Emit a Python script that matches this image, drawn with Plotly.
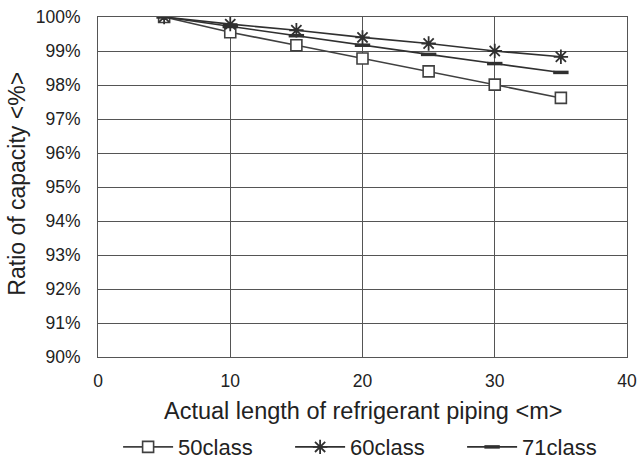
import plotly.graph_objects as go

x_len = [5, 10, 15, 20, 25, 30, 35]
cap_50 = [100, 99.55, 99.17, 98.78, 98.4, 98.01, 97.62]
cap_60 = [100, 99.79, 99.61, 99.4, 99.22, 99.0, 98.83]
cap_71 = [100, 99.72, 99.45, 99.17, 98.9, 98.63, 98.37]
x_ticks = [0, 10, 20, 30, 40]
y_ticks = [90, 91, 92, 93, 94, 95, 96, 97, 98, 99, 100]
y_tick_labels = [f"{v}%" for v in y_ticks]

line_col = "#404040"
fig = go.Figure()
fig.add_trace(go.Scatter(x=x_len, y=cap_50, name="50class", mode="lines+markers",
                         line=dict(color=line_col, width=1.6),
                         marker=dict(symbol="square", size=11, color="white",
                                     line=dict(color=line_col, width=1.6))))
fig.add_trace(go.Scatter(x=x_len, y=cap_60, name="60class", mode="lines+markers",
                         line=dict(color="#303030", width=1.6),
                         marker=dict(symbol="asterisk-open", size=12,
                                     line=dict(color="#303030", width=1.8))))
fig.add_trace(go.Scatter(x=x_len, y=cap_71, name="71class", mode="lines+markers",
                         line=dict(color="#303030", width=1.6),
                         marker=dict(symbol="line-ew-open", size=11,
                                     line=dict(color="#303030", width=3.5))))

font = "Liberation Sans"
fig.update_layout(
    width=638, height=461,
    margin=dict(l=98, r=11, t=17, b=104, autoexpand=False),
    paper_bgcolor="white", plot_bgcolor="white",
    font=dict(family=font, color="#222", size=17.5),
    showlegend=True,
    legend=dict(orientation="h", x=0.038, xanchor="left", y=-0.265, yanchor="middle",
                font=dict(size=22), traceorder="normal", itemwidth=50,
                entrywidth=107, entrywidthmode="pixels"),
    xaxis=dict(range=[0, 40], tickvals=x_ticks, showgrid=True, gridcolor="#555",
               gridwidth=1, showline=True, linecolor="#555", linewidth=1, mirror=True,
               zeroline=False, ticks="", automargin=False, ticklabeloverflow="allow",
               ticklabelstandoff=8, tickfont=dict(size=17.5)),
    yaxis=dict(range=[90, 100], tickvals=y_ticks, ticktext=y_tick_labels, showgrid=True,
               gridcolor="#555", gridwidth=1, showline=True, linecolor="#555",
               linewidth=1, mirror=True, zeroline=False, ticks="", automargin=False,
               ticklabeloverflow="allow",
               ticklabelstandoff=13, tickfont=dict(size=17.5)),
    annotations=[
        dict(text="Actual length of refrigerant piping <m>", xref="paper", yref="paper",
             x=0.5, y=-0.159, xanchor="center", yanchor="middle", showarrow=False,
             font=dict(size=23.5)),
        dict(text="Ratio of capacity <%>", xref="paper", yref="paper", textangle=-90,
             x=-0.153, y=0.51, xanchor="center", yanchor="middle", showarrow=False,
             font=dict(size=23)),
    ],
)
fig.write_html("out.html",
               config={"displayModeBar": False},
               post_script="document.body.style.margin='0';"
                           "document.body.style.overflow='hidden';")
